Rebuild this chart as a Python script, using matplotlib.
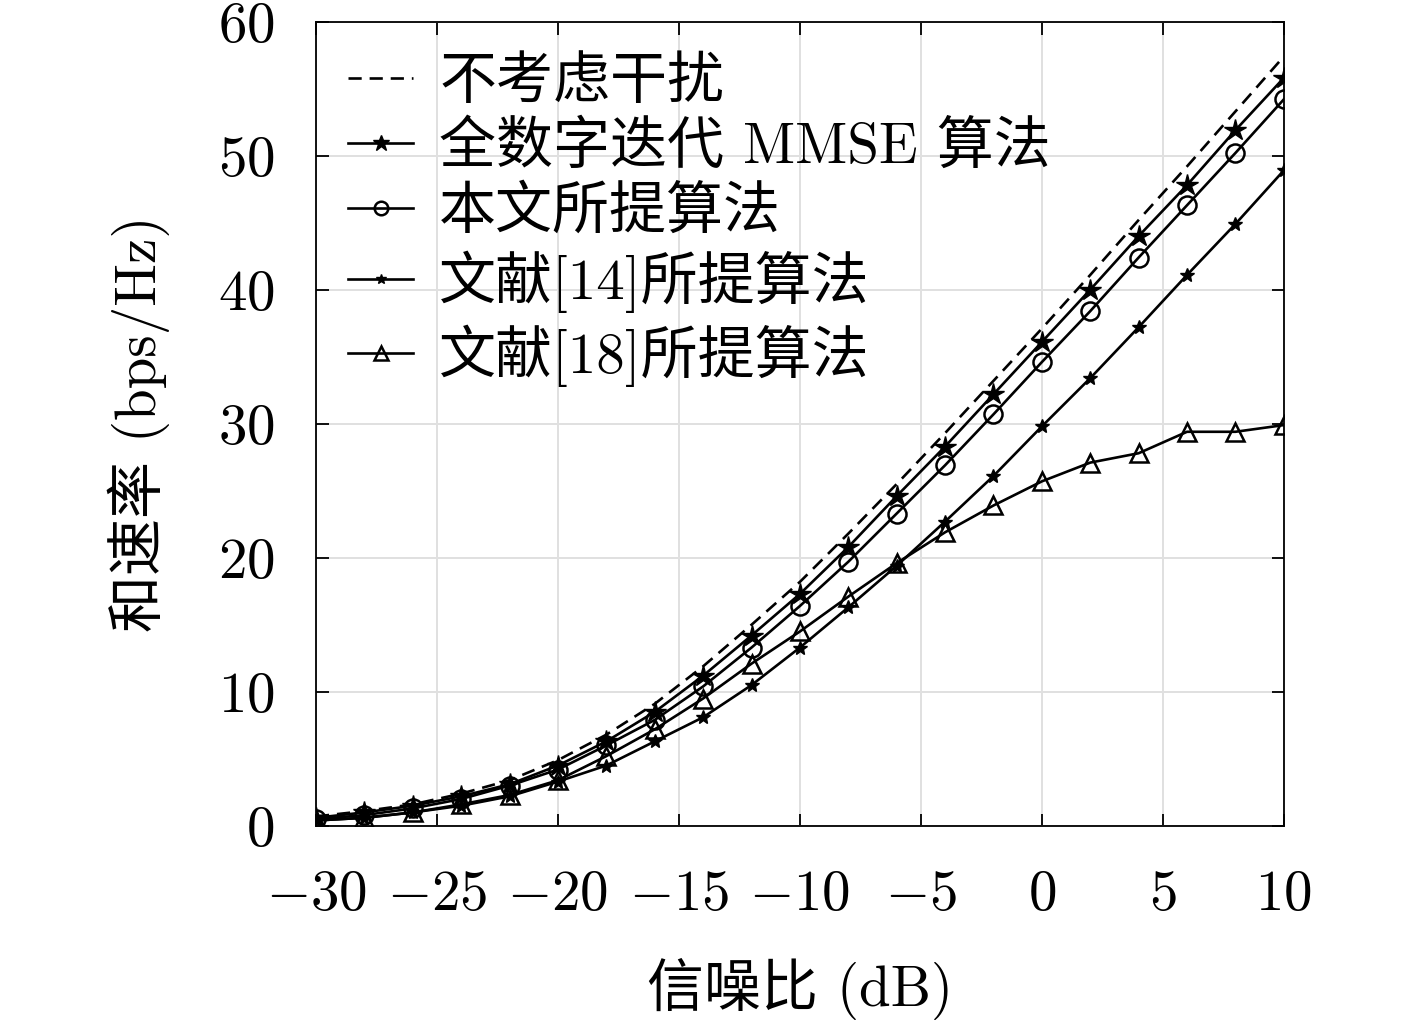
import matplotlib
matplotlib.use("Agg")
import matplotlib.pyplot as plt
import numpy as np

plt.rcParams["font.family"] = ["cmr10", "Noto Sans CJK SC", "DejaVu Sans"]
plt.rcParams["mathtext.fontset"] = "cm"
plt.rcParams["axes.formatter.use_mathtext"] = True

# SNR (dB)
snr = np.arange(-30, 11, 2)

no_interf = [0.7, 1.1, 1.6, 2.4, 3.4, 4.9, 6.8, 9.1, 11.9, 15.0, 18.2,
             21.8, 25.5, 29.3, 33.2, 37.1, 41.1, 45.2, 49.2, 53.3, 57.4]
full_digital = [0.6, 1.0, 1.5, 2.2, 3.1, 4.5, 6.3, 8.5, 11.2, 14.2, 17.3,
                20.8, 24.6, 28.3, 32.2, 36.1, 40.0, 44.0, 47.8, 51.9, 55.8]
proposed = [0.5, 0.8, 1.3, 2.0, 3.0, 4.2, 6.0, 7.9, 10.4, 13.3, 16.4,
            19.7, 23.3, 26.9, 30.7, 34.6, 38.4, 42.4, 46.3, 50.2, 54.2]
ref14 = [0.4, 0.6, 1.0, 1.5, 2.2, 3.3, 4.5, 6.3, 8.1, 10.5, 13.3,
         16.3, 19.4, 22.7, 26.1, 29.8, 33.4, 37.2, 41.1, 44.9, 48.9]
ref18 = [0.4, 0.6, 1.0, 1.6, 2.3, 3.4, 5.2, 7.2, 9.5, 12.1, 14.5,
         17.1, 19.6, 21.9, 23.9, 25.7, 27.1, 27.8, 29.4, 29.4, 29.9]

labels = ["不考虑干扰", "全数字迭代 MMSE 算法", "本文所提算法",
          "文献[14]所提算法", "文献[18]所提算法"]

fig = plt.figure(figsize=(14.17, 10.31), dpi=100)
ax = fig.add_axes([0.223, 0.199, 0.683, 0.780])

lw = 1.9
ax.plot(snr, no_interf, "k--", lw=lw, dashes=(5, 3), label=labels[0])
ax.plot(snr, full_digital, "k-", lw=lw, marker="*", ms=16, label=labels[1])
ax.plot(snr, proposed, "k-", lw=lw, marker="o", ms=13, mfc="none",
        mew=1.8, label=labels[2])
ax.plot(snr, ref14, "k-", lw=lw, marker="*", ms=10, label=labels[3])
ax.plot(snr, ref18, "k-", lw=lw, marker="^", ms=13, mfc="none",
        mew=1.8, label=labels[4])

ax.set_xlim(-30, 10)
ax.set_ylim(0, 60)
ax.set_xticks(np.arange(-30, 11, 5))
ax.set_yticks(np.arange(0, 61, 10))
ax.grid(True, color="#e0e0e0", lw=1.4)
ax.set_axisbelow(True)
ax.tick_params(direction="in", top=True, right=True, labelsize=41,
               length=9, width=1.3)
ax.tick_params(axis="x", pad=32)
ax.tick_params(axis="y", pad=30)
for s in ax.spines.values():
    s.set_linewidth(1.3)

ax.set_xlabel("信噪比 (dB)", fontsize=41, labelpad=26)
ax.set_ylabel("和速率 (bps/Hz)", fontsize=41, labelpad=34)

ax.legend(loc="upper left", frameon=False, fontsize=41, handlelength=1.15,
          handletextpad=0.45, labelspacing=0.2, borderaxespad=0.0,
          borderpad=0.0, markerscale=0.75, bbox_to_anchor=(0.033, 0.957))

fig.savefig("out.png", dpi=100, facecolor="white")
